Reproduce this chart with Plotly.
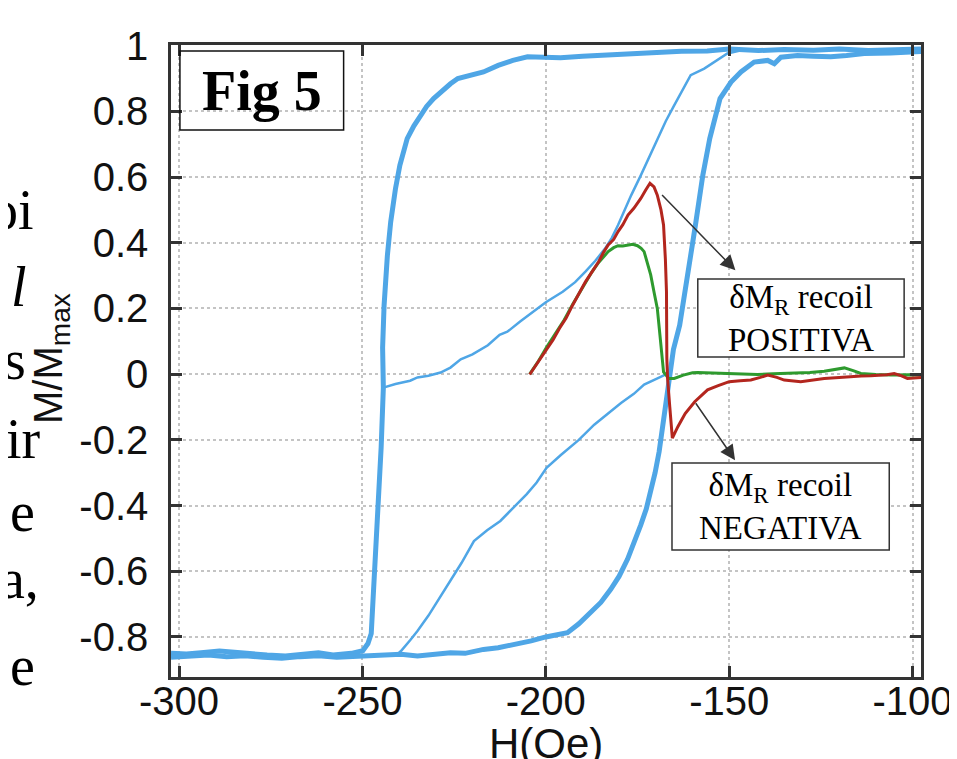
import plotly.graph_objects as go

# ---------------- data ----------------
# main loop, descending branch (upper, right -> left)
H_desc = [-97.7, -105, -112, -120, -127, -135, -142, -150, -156, -163, -170, -177, -184, -190, -196, -200,
          -205, -209, -213, -217, -221, -224, -226, -228.5, -230.6, -232.5, -234.2, -236, -237.8, -239.8,
          -241, -242.3, -243.2, -244.1, -244.5, -244.3, -244.9, -245.8, -246.7, -247.6, -248.5, -249.9,
          -253, -258, -262, -266, -271, -276, -281, -285, -289, -294, -298, -302.2]
M_desc = [0.99, 0.988, 0.985, 0.99, 0.986, 0.988, 0.985, 0.99, 0.984, 0.983, 0.98, 0.976, 0.972, 0.968, 0.963, 0.964,
          0.966, 0.955, 0.94, 0.92, 0.91, 0.90, 0.884, 0.862, 0.839, 0.815, 0.788, 0.755, 0.717, 0.636,
          0.564, 0.463, 0.361, 0.209, 0.08, -0.041, -0.223, -0.426, -0.629, -0.79, -0.82, -0.842,
          -0.85, -0.855, -0.848, -0.852, -0.858, -0.855, -0.85, -0.846, -0.843, -0.848, -0.852, -0.85]

# main loop, ascending branch (lower, left -> right)
H_asc = [-302.2, -297, -292, -287, -282, -277, -272, -267, -262, -257, -252, -248, -244, -239.5, -235, -231,
         -226, -222, -217, -213, -208, -204, -200, -197, -194.1, -191, -187.7, -185, -182.3, -180, -177.7,
         -175.8, -174.1, -172.6, -171.4, -170.2, -169.1, -168.3, -167.5, -167, -166.4, -165.2, -163.5,
         -161.2, -159.2, -157.2, -155.3, -152.5, -149.5, -146.8, -143.2, -139.5, -137.7, -135.9, -131.4,
         -127, -122.3, -118, -113.2, -106, -99.5, -97.7]
M_asc = [-0.862, -0.858, -0.855, -0.86, -0.857, -0.862, -0.865, -0.86, -0.857, -0.862, -0.86, -0.858, -0.856,
         -0.853, -0.858, -0.852, -0.848, -0.85, -0.838, -0.833, -0.822, -0.812, -0.8, -0.795, -0.787, -0.76,
         -0.726, -0.695, -0.655, -0.615, -0.563, -0.51, -0.459, -0.41, -0.36, -0.3, -0.236, -0.17, -0.114,
         -0.055, 0.0, 0.075, 0.149, 0.302, 0.454, 0.605, 0.717, 0.839, 0.889, 0.92, 0.95, 0.955, 0.945,
         0.965, 0.97, 0.968, 0.966, 0.97, 0.976, 0.978, 0.98, 0.982]

# minor recoil curve starting on the upper branch
H_minor1 = [-244.3, -241, -237, -235, -232, -228.7, -226, -223.2, -220, -217.8, -215.8, -212.6, -210.5, -207,
            -203.6, -200, -195.4, -192, -189.2, -186.5, -183.8, -182, -180.3, -178.5, -176.7, -174.1,
            -171.8, -169.5, -167.3, -165, -162.8, -160.5, -156.8, -153.5, -150.5, -147]
M_minor1 = [-0.041, -0.03, -0.02, -0.01, -0.005, 0.005, 0.02, 0.045, 0.06, 0.075, 0.088, 0.12, 0.129, 0.16,
            0.19, 0.219, 0.251, 0.28, 0.312, 0.345, 0.383, 0.415, 0.454, 0.5, 0.545, 0.605,
            0.66, 0.717, 0.77, 0.818, 0.865, 0.91, 0.93, 0.955, 0.976, 0.985]

# minor curve starting on the lower branch
H_minor2 = [-240.8, -239.5, -237, -235, -232, -229, -226, -223, -219.6, -216, -212.4, -208.8, -205.2, -202.5,
            -199.8, -195.9, -191, -186.8, -183, -179.5, -176, -173.2, -170, -167.7, -166.4]
M_minor2 = [-0.856, -0.843, -0.81, -0.782, -0.735, -0.683, -0.629, -0.575, -0.508, -0.475, -0.447, -0.405,
            -0.365, -0.33, -0.285, -0.246, -0.2, -0.154, -0.12, -0.088, -0.06, -0.032, -0.015, -0.003, 0.0]

# delta M_R recoil (red)
H_red = [-204.4, -202, -199.8, -198, -196.3, -194.5, -192.7, -191, -189.2, -187.5, -185.6, -184.3, -183,
         -181.5, -180.3, -179, -177.6, -176, -174.1, -172.8, -171.6, -170.5, -169.6, -168.6, -167.9, -167.4,
         -167.1, -167.0, -166.8, -166.2, -165.5, -164, -162, -159.4, -155.9, -153, -150, -147, -144.1, -141.5,
         -139.5, -137, -135, -130.5, -127, -124.1, -120, -117.7, -114, -111.4, -107, -105, -103, -101.4, -97.7]
M_red = [-0.001, 0.04, 0.078, 0.105, 0.139, 0.17, 0.21, 0.245, 0.281, 0.31, 0.342, 0.37, 0.393,
         0.41, 0.434, 0.455, 0.484, 0.505, 0.535, 0.56, 0.581, 0.57, 0.545, 0.5, 0.454, 0.35,
         0.251, 0.048, -0.013, -0.1, -0.195, -0.16, -0.12, -0.084, -0.048, -0.035, -0.023, -0.02, -0.018, -0.01,
         -0.003, -0.01, -0.018, -0.023, -0.018, -0.013, -0.01, -0.008, -0.006, -0.005, -0.002, 0.002, -0.005, -0.013, -0.01]

# delta M_R recoil (green)
H_green = [-204.4, -202, -199.8, -197.5, -195, -192.7, -190, -187.5, -185.6, -184, -183, -181.5, -180.3, -179,
           -177.6, -176.3, -175, -174, -173.2, -172.3, -171.4, -170.5, -169.6, -168.7, -167.9, -166.5, -165,
           -162.5, -160, -158.6, -155, -151.4, -147, -142.3, -138, -133.2, -128, -124.1, -121, -118.6, -116,
           -114.1, -110, -105.9, -101, -97.7]
M_green = [0.0, 0.04, 0.082, 0.12, 0.165, 0.212, 0.262, 0.31, 0.34, 0.362, 0.373, 0.385, 0.391, 0.39,
           0.393, 0.395, 0.391, 0.383, 0.373, 0.34, 0.302, 0.25, 0.2, 0.098, 0.007, -0.013, -0.013,
           -0.003, 0.004, 0.005, 0.004, 0.002, 0.0, -0.001, 0.001, 0.002, 0.005, 0.009, 0.014, 0.019, 0.01,
           0.002, -0.001, -0.003, -0.002, -0.003]

x_ticks = [-300, -250, -200, -150, -100]
x_ticktext = ["-300", "-250", "-200", "-150", "-100"]
y_ticks = [-0.8, -0.6, -0.4, -0.2, 0, 0.2, 0.4, 0.6, 0.8, 1]
y_ticktext = ["-0.8", "-0.6", "-0.4", "-0.2", "0", "0.2", "0.4", "0.6", "0.8", "1"]

# ---------------- figure ----------------
BLUE = "#4FA6E6"
RED = "#B3261E"
GREEN = "#2E9A2E"
SANS = "Liberation Sans"
SERIF = "Liberation Serif"

W, H = 957, 759
ML, MR, MT, MB = 163, 38, 37, 90
PW, PH = W - ML - MR, H - MT - MB


def px(x):
    return (x - ML) / PW


def py(y):
    return (H - MB - y) / PH


fig = go.Figure()
fig.add_trace(go.Scatter(x=H_desc, y=M_desc, mode="lines", line=dict(color=BLUE, width=5), hoverinfo="skip"))
fig.add_trace(go.Scatter(x=H_asc, y=M_asc, mode="lines", line=dict(color=BLUE, width=5), hoverinfo="skip"))
fig.add_trace(go.Scatter(x=H_minor1, y=M_minor1, mode="lines", line=dict(color=BLUE, width=2.5), hoverinfo="skip"))
fig.add_trace(go.Scatter(x=H_minor2, y=M_minor2, mode="lines", line=dict(color=BLUE, width=2.5), hoverinfo="skip"))
fig.add_trace(go.Scatter(x=H_green, y=M_green, mode="lines", line=dict(color=GREEN, width=3), hoverinfo="skip"))
fig.add_trace(go.Scatter(x=H_red, y=M_red, mode="lines", line=dict(color=RED, width=3), hoverinfo="skip"))

axis_common = dict(
    showline=True, linecolor="#333333", linewidth=2.5, mirror="ticks",
    ticks="inside", ticklen=11, tickwidth=2.5, tickcolor="#333333",
    showgrid=True, gridcolor="#c4c4c4", griddash="dot", gridwidth=1.5,
    zeroline=False,
    tickfont=dict(family=SANS, size=40, color="#111111"),
)

fig.update_layout(
    width=W, height=H,
    margin=dict(l=ML, r=MR, t=MT, b=MB, pad=0),
    paper_bgcolor="white", plot_bgcolor="white",
    showlegend=False,
    xaxis=dict(range=[-302.2, -97.7], tickvals=x_ticks, ticktext=x_ticktext, ticklabelstandoff=-13, **axis_common),
    yaxis=dict(range=[-0.922, 1.002], tickvals=y_ticks, ticktext=y_ticktext, ticklabelstandoff=12, **axis_common),
)

shapes = []
annotations = []

# Fig 5 box
shapes.append(dict(type="rect", xref="paper", yref="paper", x0=px(172), x1=px(337), y0=py(122), y1=py(43),
                   line=dict(color="#111111", width=1.5), fillcolor="rgba(0,0,0,0)", layer="above"))
annotations.append(dict(xref="paper", yref="paper", x=px(255), y=py(83), xanchor="center", yanchor="middle",
                        text="<b>Fig 5</b>", showarrow=False,
                        font=dict(family=SERIF, size=56, color="black")))

# label boxes
for (x0, x1, y0, y1, label) in [(694, 902, 271, 349, "δM<sub>R</sub> recoil<br>POSITIVA"),
                                (668, 887, 455, 542, "δM<sub>R</sub> recoil<br>NEGATIVA")]:
    shapes.append(dict(type="rect", xref="paper", yref="paper", x0=px(x0), x1=px(x1), y0=py(y1), y1=py(y0),
                       line=dict(color="#333333", width=1.5), fillcolor="white", layer="above"))
    annotations.append(dict(xref="paper", yref="paper", x=px((x0 + x1) / 2), y=py((y0 + y1) / 2),
                            xanchor="center", yanchor="middle", text=label, showarrow=False,
                            font=dict(family=SERIF, size=33, color="black")))

# arrows
annotations.append(dict(x=-148.3, y=0.316, ax=-168.7, ay=0.55, xref="x", yref="y", axref="x", ayref="y",
                        text="", showarrow=True, arrowhead=2, arrowsize=2, arrowwidth=1.5,
                        arrowcolor="#333333", standoff=0))
annotations.append(dict(x=-148.4, y=-0.262, ax=-159.4, ay=-0.084, xref="x", yref="y", axref="x", ayref="y",
                        text="", showarrow=True, arrowhead=2, arrowsize=2, arrowwidth=1.5,
                        arrowcolor="#333333", standoff=0))

# axis titles
annotations.append(dict(xref="paper", yref="paper", x=px(42), y=py(350), xanchor="center", yanchor="middle",
                        text="M/M<sub>max</sub>", textangle=-90, showarrow=False,
                        font=dict(family=SANS, size=40, color="#111111")))
annotations.append(dict(xref="paper", yref="paper", x=px(541), y=py(736), xanchor="center", yanchor="middle",
                        text="H(Oe)", showarrow=False,
                        font=dict(family=SANS, size=42, color="#111111")))

# fragments of the surrounding document text on the left
left_text = ["oi", "<i>l</i>", "s", "ir", "e", "a,", "e"]
left_right_px = [26, 19, 18, 33, 27, 31, 27]
left_center_px = [202, 279, 352, 431, 504, 571, 658]
for t, xr, yc in zip(left_text, left_right_px, left_center_px):
    annotations.append(dict(xref="paper", yref="paper", x=px(xr), y=py(yc), xanchor="right", yanchor="middle",
                            text=t, showarrow=False, borderpad=0,
                            font=dict(family=SERIF, size=56, color="black")))

fig.update_layout(shapes=shapes, annotations=annotations)
fig.write_html("out.html")
